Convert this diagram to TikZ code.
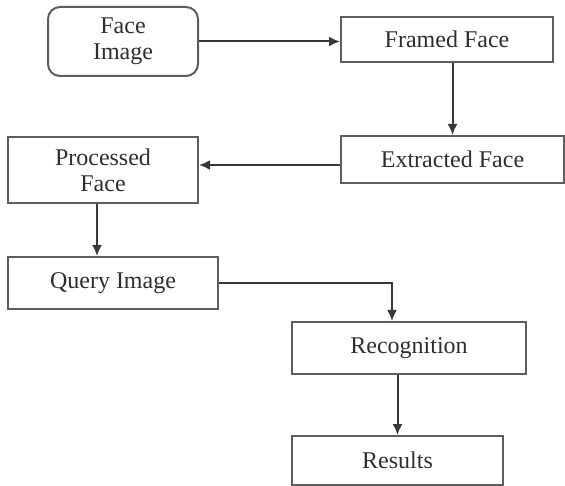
\documentclass[tikz,border=0pt]{standalone}
\usepackage{fontspec}
\setmainfont{Liberation Serif}
\usepackage{tikz}
\usetikzlibrary{arrows.meta, calc}
\definecolor{boxline}{HTML}{5E5E5E}
\definecolor{boxtext}{HTML}{2E2E2E}

\begin{document}
\begin{tikzpicture}[x=1pt, y=-1pt, >={Latex[length=11pt,width=10pt]},
                    box/.style={rectangle, draw=boxline, line width=2pt, inner sep=0pt, text=boxtext, align=center, font=\fontsize{24}{26}\selectfont},
                    link/.style={->, draw=boxline!60!black, line width=2pt}]
                      \useasboundingbox (0,0) rectangle (565,486);

                      \node[box, rounded corners=12pt, minimum width=150pt, minimum height=69pt] (faceimg) at (123,41.5) {Face\\Image};
                      \node[box, minimum width=212pt, minimum height=45pt] (framed) at (447,39.5) {Framed Face};
                      \node[box, minimum width=223pt, minimum height=47pt] (extracted) at (452.5,159.5) {Extracted Face};
                      \node[box, minimum width=190pt, minimum height=66pt] (processed) at (103,170) {Processed\\Face};
                      \node[box, minimum width=210pt, minimum height=52pt] (query) at (113,283) {Query Image};
                      \node[box, minimum width=234pt, minimum height=52pt] (recog) at (409,348) {Recognition};
                      \node[box, minimum width=211pt, minimum height=49pt] (results) at (397.5,460.5) {Results};

                      \draw[link] (faceimg.east) -- (faceimg.east -| framed.west);
                      \draw[link] (framed.south -| extracted.north) -- (extracted.north);
                      \draw[link] ([yshift=-5.5pt]extracted.west) -- ([yshift=-5.5pt]extracted.west -| processed.east);
                      \draw[link] ([xshift=-6pt]processed.south) -- ([xshift=-6pt]processed.south |- query.north);
                      \draw[link] (query.east) -| ([xshift=-17pt]recog.north);
                      \draw[link] (recog.south -| results.north) -- (results.north);

                    \end{tikzpicture}
\end{document}
